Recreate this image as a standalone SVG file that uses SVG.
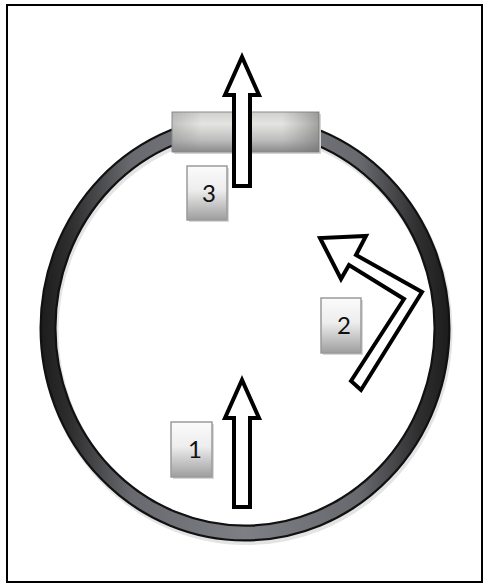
<svg xmlns="http://www.w3.org/2000/svg" width="485" height="584" viewBox="0 0 485 584">
  <defs>
    <linearGradient id="ringGrad" gradientUnits="userSpaceOnUse" x1="40" y1="0" x2="450" y2="0">
      <stop offset="0" stop-color="#1c1c1c"/>
      <stop offset="0.08" stop-color="#303031"/>
      <stop offset="0.22" stop-color="#68696e"/>
      <stop offset="0.5" stop-color="#7e7f85"/>
      <stop offset="0.78" stop-color="#68696e"/>
      <stop offset="0.92" stop-color="#303031"/>
      <stop offset="1" stop-color="#1c1c1c"/>
    </linearGradient>
    <linearGradient id="bandGrad" x1="0" y1="0" x2="0" y2="1">
      <stop offset="0" stop-color="#cfcfcc"/>
      <stop offset="0.3" stop-color="#e4e4e1"/>
      <stop offset="0.7" stop-color="#bdbdbd"/>
      <stop offset="1" stop-color="#8a8a8c"/>
    </linearGradient>
    <linearGradient id="bandSide" x1="0" y1="0" x2="1" y2="0">
      <stop offset="0" stop-color="#808080" stop-opacity="0.35"/>
      <stop offset="0.2" stop-color="#808080" stop-opacity="0"/>
      <stop offset="0.75" stop-color="#808080" stop-opacity="0"/>
      <stop offset="1" stop-color="#6a6a6a" stop-opacity="0.55"/>
    </linearGradient>
    <linearGradient id="boxGrad" x1="0" y1="0" x2="0" y2="1">
      <stop offset="0" stop-color="#fbfbfb"/>
      <stop offset="0.45" stop-color="#ededed"/>
      <stop offset="1" stop-color="#9e9e9e"/>
    </linearGradient>
    <style>
      .frame { fill: #ffffff; stroke: #000000; stroke-width: 2; }
      .arrow { fill: #ffffff; stroke: #000000; stroke-width: 4; stroke-linejoin: miter; stroke-miterlimit: 10; }
      .box { fill: url(#boxGrad); stroke: #9a9a9a; stroke-width: 1.5; }
      .shadow { fill: #d8d8d8; }
      .num { font-family: Lato, "Open Sans", "Liberation Sans", sans-serif; font-size: 24px; fill: #111111; text-anchor: middle; }
    </style>
  </defs>

  <rect class="frame" x="7" y="5" width="475" height="577"/>

  <g id="ring">
    <ellipse cx="245" cy="329" rx="197" ry="205" fill="none" stroke="#e4e4e4" stroke-width="18" transform="translate(1.5,2)"/>
    <ellipse cx="245" cy="328" rx="197" ry="205" fill="none" stroke="#111111" stroke-width="17"/>
    <ellipse cx="245" cy="328" rx="197" ry="205" fill="none" stroke="url(#ringGrad)" stroke-width="12.5"/>
  </g>

  <g id="band">
    <rect x="174" y="114" width="147" height="40" fill="#d4d4d4"/>
    <rect x="172" y="112" width="147" height="40" fill="url(#bandGrad)" stroke="#8c8c8c" stroke-width="1"/>
    <rect x="172" y="112" width="147" height="40" fill="url(#bandSide)"/>
  </g>

  <g id="connectors">
    <path id="arrow3" class="arrow" d="M234,186 L234,95 L225,95 L242,57 L259,95 L250,95 L250,186 Z"/>
    <path id="arrow2" class="arrow" d="M351,381 L404,299 L349,265 L341,279 L320,238 L366,236 L356,255 L422,292 L361,390 Z"/>
    <path id="arrow1" class="arrow" d="M234,507 L234,418 L225,418 L242,380 L259,418 L250,418 L250,507 Z"/>
  </g>

  <g id="box3">
    <rect class="shadow" x="189" y="168" width="40" height="54"/>
    <rect class="box" x="187" y="166" width="40" height="54"/>
    <text class="num" x="209" y="202">3</text>
  </g>

  <g id="box2">
    <rect class="shadow" x="323" y="300" width="40" height="55"/>
    <rect class="box" x="321" y="298" width="40" height="55"/>
    <text class="num" x="344" y="334">2</text>
  </g>

  <g id="box1">
    <rect class="shadow" x="173" y="424" width="41" height="55"/>
    <rect class="box" x="171" y="422" width="41" height="55"/>
    <text class="num" x="195" y="458">1</text>
  </g>
</svg>
